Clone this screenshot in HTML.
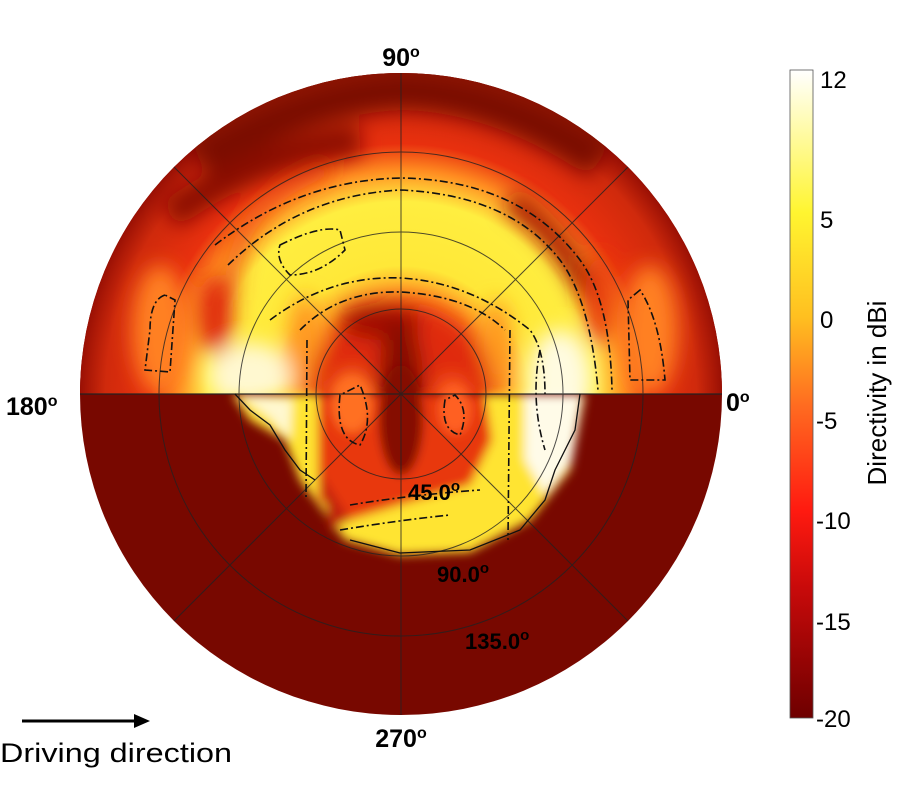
<!DOCTYPE html>
<html><head><style>
html,body{margin:0;padding:0;background:#fff;width:899px;height:800px;overflow:hidden}
text{font-family:"Liberation Sans",Arial,sans-serif}
</style></head><body>
<svg width="899" height="800" viewBox="0 0 899 800" xmlns="http://www.w3.org/2000/svg">
<defs>
<clipPath id="c"><circle cx="401" cy="394" r="321"/></clipPath>
<clipPath id="up"><rect x="70" y="60" width="670" height="334"/></clipPath>
<filter id="b8" x="-20%" y="-20%" width="140%" height="140%"><feGaussianBlur stdDeviation="10"/></filter>
<filter id="b4" x="-20%" y="-20%" width="140%" height="140%"><feGaussianBlur stdDeviation="5"/></filter>
<linearGradient id="cb" x1="0" y1="1" x2="0" y2="0">
<stop offset="0" stop-color="#6e0000"/>
<stop offset="0.2" stop-color="#c80a0a"/>
<stop offset="0.32" stop-color="#ff1a10"/>
<stop offset="0.48" stop-color="#ff6a20"/>
<stop offset="0.62" stop-color="#ffc020"/>
<stop offset="0.78" stop-color="#fff530"/>
<stop offset="1" stop-color="#ffffff"/>
</linearGradient>
<radialGradient id="rg" cx="401" cy="394" r="321" gradientUnits="userSpaceOnUse">
<stop offset="0" stop-color="#e83010"/>
<stop offset="0.3" stop-color="#ff8a20"/>
<stop offset="0.4" stop-color="#ffe838"/>
<stop offset="0.6" stop-color="#ffee40"/>
<stop offset="0.7" stop-color="#ff8a20"/>
<stop offset="0.78" stop-color="#e8300e"/>
<stop offset="0.92" stop-color="#d02a0c"/>
<stop offset="1" stop-color="#9a1004"/>
</radialGradient>
</defs>
<g clip-path="url(#c)">
<rect x="70" y="60" width="670" height="670" fill="#780800"/>
<g clip-path="url(#up)">
<rect x="70" y="60" width="670" height="340" fill="url(#rg)"/>
<g filter="url(#b8)">
<path d="M200 160 Q300 95 401 90 Q500 92 600 160" stroke="#7a0800" stroke-width="40" fill="none"/>
<path d="M170 215 Q260 150 360 140" stroke="#8a0c02" stroke-width="30" fill="none"/>
<path d="M510 200 Q570 240 600 320" stroke="#a01204" stroke-width="20" fill="none"/>
<path d="M230 300 Q230 200 330 170" stroke="#e83a10" stroke-width="16" fill="none" opacity="0.6"/>
<ellipse cx="160" cy="330" rx="28" ry="65" fill="#ff8020"/>
<ellipse cx="650" cy="330" rx="28" ry="65" fill="#ff8020"/>
<ellipse cx="215" cy="315" rx="18" ry="40" fill="#e02a0c"/>
<ellipse cx="600" cy="300" rx="15" ry="45" fill="#e8400e"/>
<ellipse cx="250" cy="375" rx="42" ry="32" fill="#fff8d0"/>
<ellipse cx="305" cy="345" rx="18" ry="50" fill="#ff9a20"/>
<ellipse cx="560" cy="380" rx="32" ry="50" fill="#fffbe0"/>
<ellipse cx="497" cy="345" rx="15" ry="45" fill="#ff9a20"/>
<circle cx="401" cy="394" r="92" fill="#e02c0c"/>
<ellipse cx="380" cy="322" rx="40" ry="18" fill="#a00a02"/>
<ellipse cx="401" cy="380" rx="22" ry="60" fill="#850802"/>
<ellipse cx="352" cy="400" rx="20" ry="28" fill="#ff7020"/>
<ellipse cx="452" cy="402" rx="16" ry="24" fill="#ff6020"/>
</g>
</g>
<g filter="url(#b4)">
<path d="M232 394 L250 420 L285 440 L300 480 L330 520 L345 540 L400 555 L470 552 L530 520 L570 470 L585 394 Z" fill="#ffe430"/>
<path d="M238 394 L270 418 L290 440 L292 400 Z" fill="#fff8d0"/>
<path d="M525 394 L582 394 L572 460 L545 495 L525 460 Z" fill="#fffbe8"/>
<path d="M318 394 L318 500 L350 520 L400 505 L470 485 L492 440 L485 394 Z" fill="#e83810"/>
<ellipse cx="401" cy="420" rx="22" ry="55" fill="#850802"/>
<ellipse cx="352" cy="405" rx="20" ry="28" fill="#ff7020"/>
<ellipse cx="455" cy="410" rx="16" ry="24" fill="#ff6020"/>
<path d="M318 470 L350 520 L330 530 Z" fill="#c02008"/>
</g>
<g stroke="#222" stroke-width="1" fill="none" opacity="0.8">
<circle cx="401" cy="394" r="85"/>
<circle cx="401" cy="394" r="162"/>
<circle cx="401" cy="394" r="242"/>
<line x1="80" y1="394" x2="722" y2="394" stroke-width="1.5"/>
<line x1="401" y1="73" x2="401" y2="715"/>
<line x1="174" y1="167" x2="628" y2="621"/>
<line x1="628" y1="167" x2="174" y2="621"/>
</g>
<g stroke="#111" stroke-width="1.6" fill="none" stroke-dasharray="8,3,2,3">
<path d="M215 245 Q300 180 401 178 Q520 180 580 260 Q610 300 612 390"/>
<path d="M228 265 Q300 195 401 190 Q510 195 560 260 Q590 300 598 390"/>
<path d="M270 320 Q330 275 401 278 Q470 282 530 330 Q545 350 545 394"/>
<path d="M300 330 Q340 290 401 292 Q470 296 505 330"/>
<path d="M165 295 Q150 300 150 330 L145 370 L170 372 L175 300Z"/>
<path d="M640 290 L628 300 L630 380 L665 380 Q660 320 640 290Z"/>
<path d="M280 245 Q320 225 340 230 L345 250 Q320 275 290 275 Q275 260 280 245Z"/>
<path d="M307 340 L306 500"/>
<path d="M510 330 L508 540"/>
<path d="M540 350 Q530 400 545 450"/>
<path d="M350 505 Q410 495 480 490"/>
<path d="M340 530 Q400 520 450 515"/>
<path d="M340 395 Q335 440 360 445 Q375 420 360 385Z"/>
<path d="M445 400 Q440 430 460 435 Q470 410 455 395Z"/>
</g>
<path d="M235 394 L250 410 L270 425 L285 450 L300 470 L315 480" stroke="#111" stroke-width="1.3" fill="none"/>
<path d="M580 394 L575 430 L555 470 L545 500 L520 530 L470 550 L400 553 L350 540" stroke="#111" stroke-width="1.3" fill="none"/>
</g>
<text x="401" y="66" font-size="25" font-weight="bold" text-anchor="middle">90<tspan font-size="16" dy="-9">o</tspan></text>
<text x="401" y="747" font-size="25" font-weight="bold" text-anchor="middle">270<tspan font-size="16" dy="-9">o</tspan></text>
<text x="6" y="415" font-size="25" font-weight="bold">180<tspan font-size="16" dy="-9">o</tspan></text>
<text x="726" y="411" font-size="25" font-weight="bold">0<tspan font-size="16" dy="-9">o</tspan></text>
<text x="408" y="500" font-size="22" font-weight="bold">45.0<tspan font-size="15" dy="-9">o</tspan></text>
<text x="437" y="582" font-size="22" font-weight="bold">90.0<tspan font-size="15" dy="-9">o</tspan></text>
<text x="465" y="649" font-size="22" font-weight="bold">135.0<tspan font-size="15" dy="-9">o</tspan></text>
<line x1="22" y1="721" x2="140" y2="721" stroke="#000" stroke-width="3"/>
<path d="M150 721 L134 714 L134 728 Z" fill="#000"/>
<text x="0" y="762" font-size="27" textLength="232" lengthAdjust="spacingAndGlyphs">Driving direction</text>
<rect x="790" y="70" width="23" height="648" fill="url(#cb)" stroke="#555" stroke-width="0.8"/>
<g font-size="24">
<text x="820" y="88">12</text>
<text x="820" y="228">5</text>
<text x="820" y="328">0</text>
<text x="816" y="429">-5</text>
<text x="816" y="529">-10</text>
<text x="816" y="630">-15</text>
<text x="816" y="727">-20</text>
</g>
<text transform="translate(886,393) rotate(-90)" font-size="26" text-anchor="middle">Directivity in dBi</text>
</svg>
</body></html>
